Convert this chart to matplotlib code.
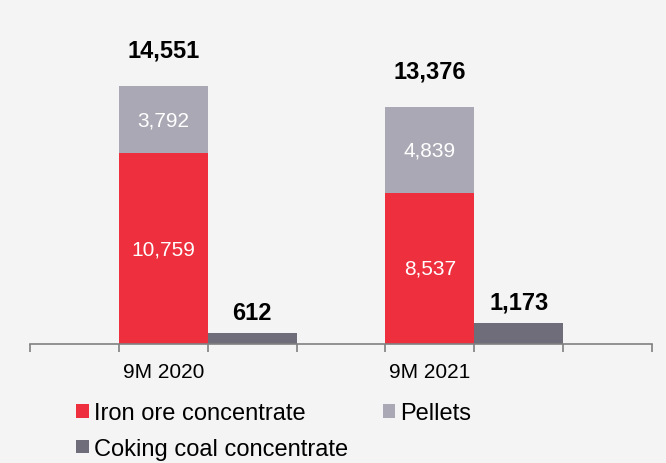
import numpy as np
import matplotlib.pyplot as plt

plt.rcParams['font.family'] = ['Liberation Sans', 'DejaVu Sans']

periods = ['9M 2020', '9M 2021']
iron_ore = [10759, 8537]
pellets = [3792, 4839]
coking_coal = [612, 1173]

red = '#EE2F3D'
grey = '#A9A8B4'
dark = '#6E6D79'
bg = '#F4F4F4'

fig = plt.figure(figsize=(6.66, 4.64), dpi=100, facecolor=bg)
ax = fig.add_axes([30 / 666, (464 - 345) / 464, 622 / 666, 319 / 464], facecolor=bg)

x_main = np.array([1, 4])
x_coal = x_main + 1

b1 = ax.bar(x_main, iron_ore, width=1.0, color=red, label='Iron ore concentrate')
b2 = ax.bar(x_main, pellets, width=1.0, bottom=iron_ore, color=grey, label='Pellets')
b3 = ax.bar(x_coal, coking_coal, width=1.0, color=dark, label='Coking coal concentrate')

for i in range(2):
    ax.text(x_main[i], iron_ore[i] / 2, f'{iron_ore[i]:,}', ha='center', va='center',
            color='white', fontsize=15)
    ax.text(x_main[i], iron_ore[i] + pellets[i] / 2, f'{pellets[i]:,}', ha='center',
            va='center', color='white', fontsize=15)
    total = iron_ore[i] + pellets[i]
    ax.annotate(f'{total:,}', (x_main[i], total), xytext=(0, 26), textcoords='offset points',
                ha='center', va='center', fontsize=17, fontweight='bold', annotation_clip=False)
    ax.annotate(f'{coking_coal[i]:,}', (x_coal[i], coking_coal[i]), xytext=(0, 15),
                textcoords='offset points', ha='center', va='center', fontsize=17,
                fontweight='bold', annotation_clip=False)

ax.set_xlim(-0.5, 6.5)
ax.set_ylim(0, 18000)
ax.set_xticks(np.arange(-0.5, 7, 1))
ax.set_xticklabels([])
ax.set_xticks(x_main, minor=True)
ax.set_xticklabels(periods, minor=True, fontsize=15)
ax.tick_params(axis='x', which='major', length=6, color='#808080', width=1.2)
ax.tick_params(axis='x', which='minor', length=0, pad=13)
ax.set_yticks([])
for s in ['top', 'right', 'left']:
    ax.spines[s].set_visible(False)
ax.spines['bottom'].set_color('#808080')
ax.spines['bottom'].set_linewidth(1.2)

leg = fig.legend(handles=[b1, b3, b2], loc='upper left', bbox_to_anchor=(67 / 666, 1 - 394 / 464),
                 ncol=2, frameon=False, fontsize=17, handlelength=0.55, handleheight=0.5,
                 handletextpad=0.2, columnspacing=1.45, labelspacing=0.57, borderaxespad=0)

fig.savefig('out.png', dpi=100, facecolor=bg)
